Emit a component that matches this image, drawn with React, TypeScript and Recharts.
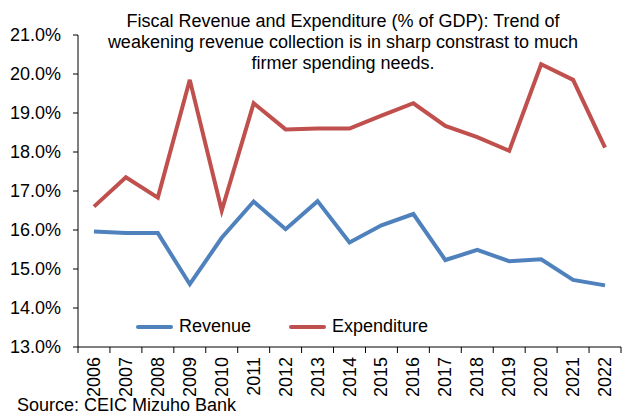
import { LineChart, Line, XAxis, YAxis, Legend } from 'recharts';

const years = ['2006', '2007', '2008', '2009', '2010', '2011', '2012', '2013', '2014', '2015', '2016', '2017', '2018', '2019', '2020', '2021', '2022'];
const revenue = [15.96, 15.92, 15.92, 14.61, 15.8, 16.73, 16.02, 16.74, 15.68, 16.12, 16.41, 15.23, 15.49, 15.2, 15.25, 14.72, 14.58];
const expenditure = [16.6, 17.35, 16.83, 19.85, 16.5, 19.25, 18.58, 18.6, 18.6, 18.93, 19.25, 18.67, 18.38, 18.03, 20.25, 19.85, 18.11];
const yTicks = [13, 14, 15, 16, 17, 18, 19, 20, 21];
const seriesOrder = ['Revenue', 'Expenditure'];

const data = years.map((year, i) => ({ year, Revenue: revenue[i], Expenditure: expenditure[i] }));

const FONT = '"Liberation Sans", Arial, sans-serif';

function YearTick(props: any) {
  const { x, y, payload, index, visibleTicksCount } = props;
  const off = payload && payload.offset ? payload.offset : 16;
  const last = index === visibleTicksCount - 1;
  return (
    <g>
      <line x1={x - off} y1={y - 8} x2={x - off} y2={y - 2} stroke="#000" />
      {last && <line x1={x + off} y1={y - 8} x2={x + off} y2={y - 2} stroke="#000" />}
      <text
        transform={`translate(${x},${y + 2}) rotate(-90)`}
        textAnchor="end"
        dominantBaseline="central"
        fontSize={18}
        fontFamily={FONT}
        fill="#000"
      >
        {payload.value}
      </text>
    </g>
  );
}

function LegendContent(props: any) {
  const items = [...(props.payload || [])].sort(
    (a: any, b: any) => seriesOrder.indexOf(a.value) - seriesOrder.indexOf(b.value)
  );
  return (
    <div style={{ display: 'flex', alignItems: 'center', fontFamily: FONT, fontSize: 18, color: '#000', whiteSpace: 'nowrap' }}>
      {items.map((it: any) => (
        <div key={it.value} style={{ display: 'flex', alignItems: 'center', marginRight: 38 }}>
          <span style={{ display: 'inline-block', width: 37, height: 4, borderRadius: 2, background: it.color, marginRight: 6 }} />
          <span>{it.value}</span>
        </div>
      ))}
    </div>
  );
}

export default function App() {
  return (
    <div style={{ position: 'absolute', left: 0, top: 0, width: 622, height: 414, background: '#fff', overflow: 'hidden' }}>
      <LineChart width={622} height={414} data={data} margin={{ top: 35, right: 1, left: 0, bottom: 0 }}>
        <XAxis
          dataKey="year"
          scale="band"
          interval={0}
          height={67}
          tickLine={false}
          axisLine={{ stroke: '#000' }}
          tick={<YearTick />}
        />
        <YAxis
          domain={[13, 21]}
          ticks={yTicks}
          width={78}
          tickSize={5}
          tickMargin={12}
          tickFormatter={(v: number) => v.toFixed(1) + '%'}
          axisLine={{ stroke: '#000' }}
          tickLine={{ stroke: '#000' }}
          tick={{ fill: '#000', fontSize: 18, fontFamily: FONT }}
        />
        <Legend
          content={<LegendContent />}
          layout="horizontal"
          verticalAlign="middle"
          align="center"
          wrapperStyle={{ left: 136, top: 316, width: 'auto' }}
        />
        <Line dataKey="Revenue" stroke="#4F81BD" strokeWidth={4} dot={false} isAnimationActive={false} />
        <Line dataKey="Expenditure" stroke="#C0504D" strokeWidth={4} dot={false} isAnimationActive={false} />
      </LineChart>
      <div
        style={{
          position: 'absolute',
          left: 93,
          top: 11,
          width: 500,
          textAlign: 'center',
          fontFamily: FONT,
          fontSize: 18,
          lineHeight: '21px',
          color: '#000',
        }}
      >
        Fiscal Revenue and Expenditure (% of GDP): Trend of
        <br />
        weakening revenue collection is in sharp constrast to much
        <br />
        firmer spending needs.
      </div>
      <div style={{ position: 'absolute', left: 17, top: 397, fontFamily: FONT, fontSize: 18, lineHeight: '17px', color: '#000' }}>
        Source: CEIC Mizuho Bank
      </div>
    </div>
  );
}
